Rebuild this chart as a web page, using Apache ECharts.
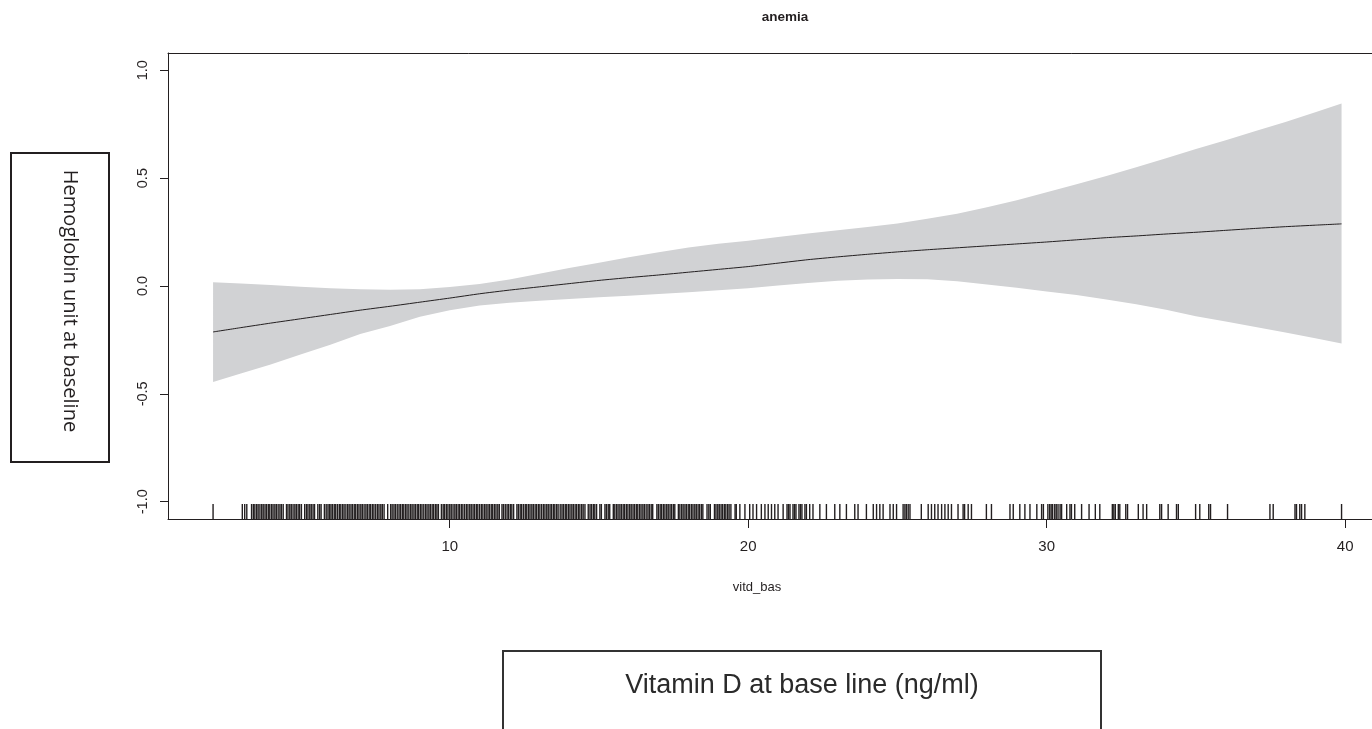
<!DOCTYPE html>
<html>
<head>
<meta charset="utf-8">
<script src="https://cdn.jsdelivr.net/npm/echarts@6/dist/echarts.min.js"></script>
<style>
html,body{margin:0;padding:0;background:#fff;}
#chart{width:1372px;height:729px;}
</style>
</head>
<body>
<div id="chart"></div>
<script>
// ---- data ----
const xs        = [2.07, 3, 4, 5, 6, 7, 8, 9, 10, 11, 12, 13, 14, 15, 16, 17, 18, 19, 20, 21, 22, 23, 24, 25, 26, 27, 28, 29, 30, 31, 32, 33, 34, 35, 36, 37, 38, 39, 39.88];
const fitVals   = [-0.213, -0.193, -0.172, -0.152, -0.132, -0.112, -0.094, -0.075, -0.056, -0.036, -0.019, -0.004, 0.011, 0.026, 0.039, 0.051, 0.064, 0.077, 0.090, 0.106, 0.122, 0.135, 0.147, 0.158, 0.168, 0.177, 0.186, 0.195, 0.204, 0.214, 0.224, 0.232, 0.241, 0.249, 0.258, 0.267, 0.275, 0.282, 0.288];
const upperVals = [0.017, 0.012, 0.005, -0.004, -0.010, -0.015, -0.017, -0.015, -0.005, 0.009, 0.030, 0.057, 0.083, 0.108, 0.133, 0.157, 0.178, 0.196, 0.210, 0.227, 0.243, 0.258, 0.273, 0.290, 0.312, 0.335, 0.365, 0.398, 0.435, 0.472, 0.510, 0.550, 0.592, 0.635, 0.676, 0.718, 0.760, 0.805, 0.846];
const lowerVals = [-0.445, -0.405, -0.364, -0.318, -0.272, -0.222, -0.185, -0.142, -0.112, -0.090, -0.078, -0.068, -0.060, -0.052, -0.045, -0.037, -0.029, -0.020, -0.010, 0.002, 0.014, 0.024, 0.030, 0.033, 0.031, 0.022, 0.007, -0.008, -0.025, -0.042, -0.062, -0.085, -0.110, -0.140, -0.165, -0.190, -0.216, -0.242, -0.266];

const rugValues = [
  2.07,
  3.05, 3.13, 3.2,
  3.36, 3.42, 3.47, 3.53, 3.58, 3.64, 3.7, 3.75, 3.81, 3.86, 3.92, 3.97,
  4.03, 4.08, 4.14, 4.19, 4.25, 4.31, 4.36, 4.42, 4.53, 4.58, 4.64, 4.69, 4.75, 4.81, 4.86, 4.92, 4.97,
  5.03, 5.14, 5.2, 5.25, 5.31, 5.36, 5.42, 5.47, 5.58, 5.64, 5.69, 5.8, 5.86, 5.92, 5.97,
  6.02, 6.07, 6.13, 6.18, 6.24, 6.3, 6.35, 6.41, 6.46, 6.52, 6.58, 6.63, 6.69, 6.74, 6.8, 6.85, 6.91, 6.96,
  7.02, 7.07, 7.13, 7.19, 7.24, 7.3, 7.35, 7.41, 7.46, 7.52, 7.58, 7.63, 7.69, 7.74, 7.8, 7.92, 8.02,
  8.07, 8.13, 8.18, 8.24, 8.3, 8.35, 8.41, 8.46, 8.52, 8.57, 8.63, 8.69, 8.74, 8.8, 8.85, 8.91, 8.96,
  9.02, 9.07, 9.13, 9.19, 9.24, 9.3, 9.35, 9.41, 9.46, 9.52, 9.57, 9.62, 9.72, 9.78, 9.83, 9.89, 9.94,
  10.0, 10.05, 10.11, 10.17, 10.22, 10.28, 10.33, 10.39, 10.44, 10.5, 10.56, 10.61, 10.67, 10.72, 10.78, 10.83, 10.89, 10.94,
  11.0, 11.06, 11.11, 11.17, 11.22, 11.28, 11.33, 11.39, 11.44, 11.5, 11.55, 11.61, 11.66, 11.75, 11.8, 11.86, 11.92, 11.97,
  12.03, 12.08, 12.14, 12.25, 12.3, 12.36, 12.41, 12.47, 12.53, 12.58, 12.64, 12.69, 12.75, 12.8, 12.86, 12.91, 12.97,
  13.02, 13.08, 13.14, 13.19, 13.25, 13.3, 13.36, 13.41, 13.47, 13.52, 13.58, 13.63, 13.7, 13.76, 13.81, 13.87, 13.92, 13.98,
  14.03, 14.09, 14.14, 14.2, 14.25, 14.31, 14.36, 14.42, 14.47, 14.53, 14.64, 14.7, 14.75, 14.81, 14.86, 14.92,
  15.03, 15.08, 15.2, 15.25, 15.31, 15.36, 15.48, 15.53, 15.59, 15.64, 15.7, 15.75, 15.81, 15.86, 15.92, 15.97,
  16.03, 16.08, 16.14, 16.19, 16.25, 16.3, 16.36, 16.41, 16.47, 16.52, 16.58, 16.64, 16.69, 16.75, 16.8, 16.94, 16.99,
  17.05, 17.1, 17.16, 17.21, 17.27, 17.32, 17.38, 17.43, 17.49, 17.54, 17.66, 17.71, 17.77, 17.82, 17.88, 17.93, 17.99,
  18.04, 18.1, 18.15, 18.21, 18.26, 18.32, 18.37, 18.43, 18.48, 18.62, 18.68, 18.73, 18.87, 18.92, 18.98,
  19.03, 19.09, 19.14, 19.2, 19.25, 19.31, 19.36, 19.42, 19.56, 19.6,
  19.72, 19.89, 20.05, 20.16, 20.28, 20.44, 20.56, 20.67, 20.78, 20.89, 21.0, 21.17,
  21.3, 21.35, 21.4, 21.5, 21.55, 21.6, 21.7, 21.75, 21.8, 21.9, 21.95, 22.06, 22.17, 22.4, 22.62,
  22.9, 23.07, 23.29, 23.57, 23.68, 23.96, 24.19, 24.3, 24.41, 24.52, 24.75, 24.86, 24.97,
  25.19, 25.25, 25.3, 25.36, 25.42, 25.8, 26.03, 26.14, 26.25, 26.36, 26.48, 26.59, 26.7, 26.81,
  27.03, 27.2, 27.25, 27.37, 27.48, 27.98, 28.15, 28.77, 28.88, 29.1, 29.27, 29.44, 29.67, 29.83, 29.89,
  30.04, 30.1, 30.15, 30.2, 30.27, 30.32, 30.38, 30.45, 30.5, 30.67, 30.78, 30.83, 30.94, 31.17, 31.42, 31.63, 31.78,
  32.2, 32.25, 32.3, 32.4, 32.45, 32.65, 32.71, 33.07, 33.23, 33.35, 33.79, 33.85, 34.07, 34.35, 34.41, 34.99, 35.13,
  35.43, 35.49, 36.06, 37.48, 37.59, 38.32, 38.37, 38.48, 38.54, 38.65, 39.88
];

const xTicks = [10, 20, 30, 40];
const yTicks = [-1.0, -0.5, 0.0, 0.5, 1.0];

const titleText = 'anemia';
const xName = 'vitd_bas';
const leftBoxText = 'Hemoglobin unit at baseline';
const bottomBoxText = 'Vitamin D at base line (ng/ml)';

// ---- chart ----
const ink = '#231f20';
const chart = echarts.init(document.getElementById('chart'), null, {renderer: 'canvas'});

const option = {
  backgroundColor: '#ffffff',
  animation: false,
  grid: {left: 168, right: 0, top: 53, bottom: 210, containLabel: false},
  xAxis: [
    {
      type: 'value', min: 0.56, max: 40.9, position: 'bottom',
      axisLine: {show: true, onZero: false, lineStyle: {color: ink, width: 1}},
      axisTick: {show: true, length: 9, customValues: xTicks, lineStyle: {color: ink, width: 1}},
      axisLabel: {show: true, customValues: xTicks, margin: 20, fontSize: 15, color: ink, fontFamily: 'Liberation Sans'},
      splitLine: {show: false}
    },
    {
      type: 'value', min: 0.56, max: 40.9, position: 'top',
      axisLine: {show: true, onZero: false, lineStyle: {color: ink, width: 1}},
      axisTick: {show: false}, axisLabel: {show: false}, splitLine: {show: false}
    }
  ],
  yAxis: {
    type: 'value', min: -1.08, max: 1.08,
    axisLine: {show: true, onZero: false, lineStyle: {color: ink, width: 1}},
    axisTick: {show: true, length: 8, customValues: yTicks, lineStyle: {color: ink, width: 1}},
    axisLabel: {show: true, customValues: yTicks, rotate: 90, margin: 18, fontSize: 14.5, color: ink,
      fontFamily: 'Liberation Sans', formatter: v => v.toFixed(1)},
    splitLine: {show: false}
  },
  series: [
    {
      type: 'custom', name: 'band', silent: true, z: 1,
      data: [[xs[0], fitVals[0]]],
      renderItem: function (params, api) {
        const pts = [];
        for (let i = 0; i < xs.length; i++) pts.push(api.coord([xs[i], upperVals[i]]));
        for (let i = xs.length - 1; i >= 0; i--) pts.push(api.coord([xs[i], lowerVals[i]]));
        return {type: 'polygon', shape: {points: pts, smooth: 0}, style: {fill: '#d1d2d4', stroke: null}};
      }
    },
    {
      type: 'line', name: 'fit', z: 3, silent: true,
      data: xs.map((x, i) => [x, fitVals[i]]),
      symbol: 'none', showSymbol: false, smooth: 0.15,
      lineStyle: {color: ink, width: 1}
    },
    {
      type: 'custom', name: 'rug', z: 4, silent: true,
      data: rugValues.map(v => [v, -1.08]),
      renderItem: function (params, api) {
        const p = api.coord([api.value(0), api.value(1)]);
        return {type: 'line', shape: {x1: p[0], y1: p[1], x2: p[0], y2: p[1] - 15},
          style: {stroke: ink, lineWidth: 1.4}};
      }
    }
  ],
  graphic: [
    {type: 'text', x: 785, y: 17, style: {text: titleText, fill: ink, fontSize: 13.5, fontWeight: 'bold',
      fontFamily: 'Liberation Sans', align: 'center', verticalAlign: 'middle'}},
    {type: 'text', x: 757, y: 587, style: {text: xName, fill: ink, fontSize: 13,
      fontFamily: 'Liberation Sans', align: 'center', verticalAlign: 'middle'}},
    {type: 'rect', shape: {x: 11, y: 153, width: 98, height: 309},
      style: {fill: 'none', stroke: ink, lineWidth: 2}},
    {type: 'text', x: 70, y: 301, rotation: -Math.PI / 2, style: {text: leftBoxText, fill: ink, fontSize: 20,
      fontFamily: 'Open Sans', align: 'center', verticalAlign: 'middle'}},
    {type: 'rect', shape: {x: 503, y: 651, width: 598, height: 120},
      style: {fill: 'none', stroke: '#333333', lineWidth: 2}},
    {type: 'text', x: 802, y: 686, style: {text: bottomBoxText, fill: '#2a2a2a', fontSize: 27,
      fontFamily: 'Liberation Sans', align: 'center', verticalAlign: 'middle'}}
  ]
};
chart.setOption(option);
</script>
</body>
</html>
